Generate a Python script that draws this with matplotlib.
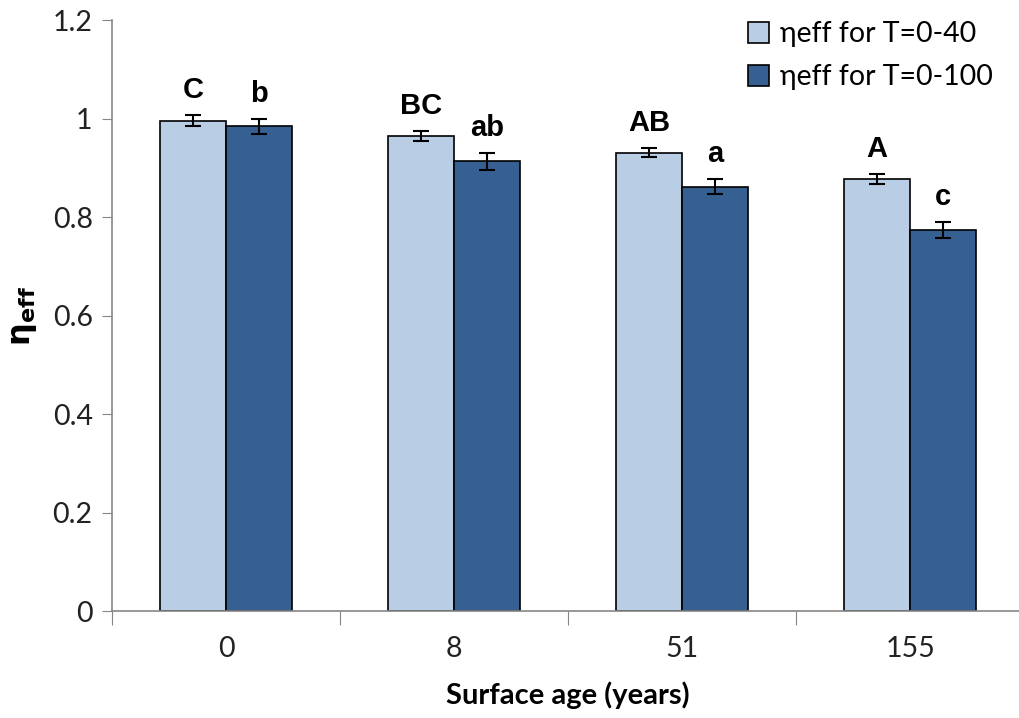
import numpy as np
import matplotlib.pyplot as plt

# valores
edades = ['0', '8', '51', '155']
eta_40 = [0.996, 0.964, 0.931, 0.878]
err_40 = [0.011, 0.010, 0.010, 0.010]
eta_100 = [0.984, 0.913, 0.862, 0.773]
err_100 = [0.015, 0.017, 0.015, 0.016]
letras_40 = ['C', 'BC', 'AB', 'A']
letras_100 = ['b', 'ab', 'a', 'c']

COLOR_CLARO = '#B9CDE5'
COLOR_OSCURO = '#376092'
GRIS = '#868686'

fig = plt.figure(figsize=(10.19, 7.18), dpi=100)
ax = fig.add_axes([0.11, 0.149, 0.895, 0.823])

x = np.arange(len(edades))
w = 0.29

ax.bar(x - w/2, eta_40, w, color=COLOR_CLARO, edgecolor='black', linewidth=1.2,
       yerr=err_40, capsize=6, error_kw=dict(elinewidth=1.5, capthick=1.5),
       label='ηeff for T=0-40', zorder=2)
ax.bar(x + w/2, eta_100, w, color=COLOR_OSCURO, edgecolor='black', linewidth=1.2,
       yerr=err_100, capsize=6, error_kw=dict(elinewidth=1.5, capthick=1.5),
       label='ηeff for T=0-100', zorder=2)

# letras de significancia
for i in range(len(edades)):
    ax.annotate(letras_40[i], (x[i] - w/2, eta_40[i] + err_40[i]), xytext=(0, 8),
                textcoords='offset points', ha='center', va='bottom',
                fontsize=21, fontweight='bold', family='Liberation Sans')
    ax.annotate(letras_100[i], (x[i] + w/2, eta_100[i] + err_100[i]), xytext=(0, 8),
                textcoords='offset points', ha='center', va='bottom',
                fontsize=21, fontweight='bold', family='Liberation Sans')

ax.set_xlim(-0.5, 3.5)
ax.set_ylim(0, 1.2)
ax.set_yticks(np.arange(0, 1.21, 0.2))
ax.set_yticklabels(['0', '0.2', '0.4', '0.6', '0.8', '1', '1.2'])

ax.set_xticks(np.arange(-0.5, 3.0, 1.0))
ax.set_xticklabels([])
ax.set_xticks(x, minor=True)
ax.set_xticklabels(edades, minor=True)
ax.tick_params(axis='x', which='major', length=10, color=GRIS, direction='out')
ax.tick_params(axis='x', which='minor', length=0, pad=18)
ax.tick_params(axis='y', length=7, color=GRIS, direction='out', pad=7)
ax.tick_params(axis='both', which='both', labelsize=20.5, labelcolor='#222222')
for lbl in ax.get_xticklabels(minor=True) + ax.get_yticklabels():
    lbl.set_family('Lato')

for s in ['top', 'right']:
    ax.spines[s].set_visible(False)
for s in ['left', 'bottom']:
    ax.spines[s].set_color(GRIS)
    ax.spines[s].set_linewidth(1.2)

ax.set_xlabel('Surface age (years)', fontsize=21, fontweight='bold', family='Lato', labelpad=14)
ax.set_ylabel(r'η$_{\mathbf{eff}}$', fontsize=23, fontweight='bold', labelpad=10)

ax.legend(loc='upper right', bbox_to_anchor=(1.0, 1.006), bbox_transform=fig.transFigure,
          frameon=False, prop={'family': 'Lato', 'size': 20.5},
          handlelength=0.75, handleheight=0.75, handletextpad=0.4, labelspacing=0.6)

fig.savefig('out.png', dpi=100)
